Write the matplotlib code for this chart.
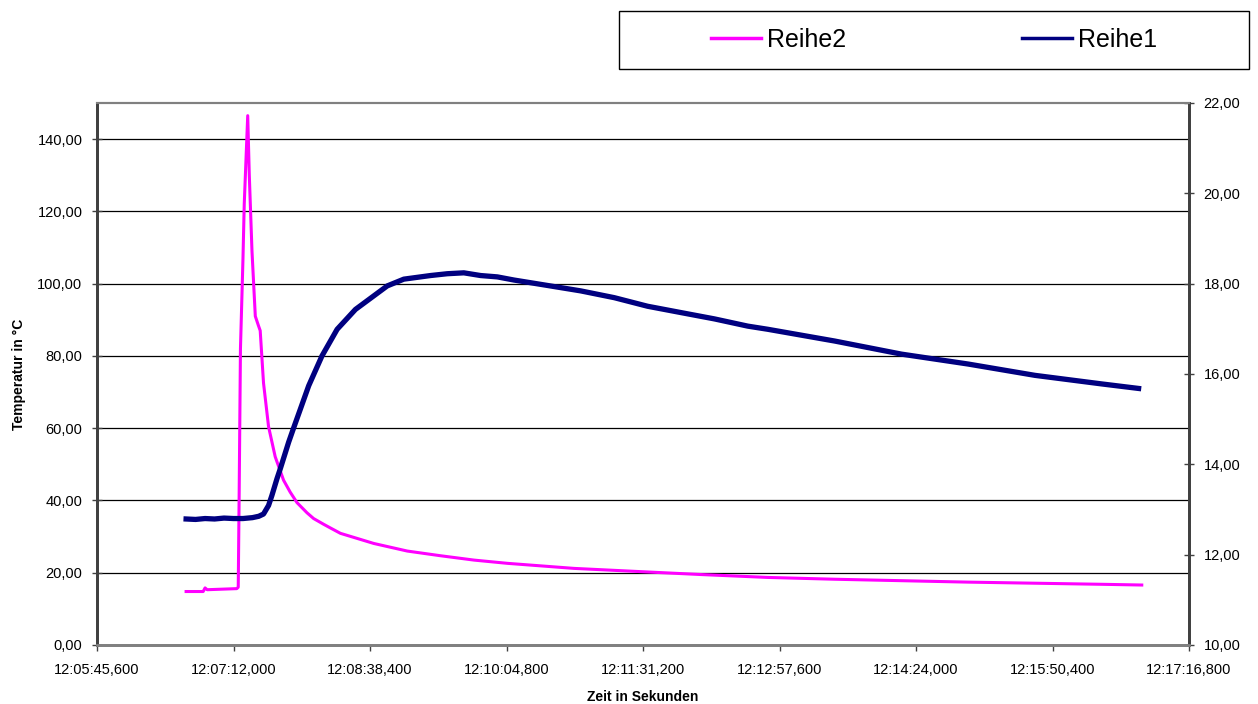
import numpy as np
import matplotlib
matplotlib.use("Agg")
import matplotlib.pyplot as plt
from matplotlib.ticker import FuncFormatter

# ==========================================================
# Data
# ==========================================================

# measurement start 12:06:42 (seconds of day)
T_START = 12 * 3600 + 6 * 60 + 42.0

# x axis range 12:05:45,600 ... 12:17:16,800, step 0,001 day
X_MIN = 12 * 3600 + 5 * 60 + 45.6
X_STEP = 86.4
X_COUNT = 8

# Reihe2 (left axis), seconds after start
reihe2_t = [0.0, 10.8, 12.0, 13.3, 32.1, 33.0, 33.6, 34.4, 36.0, 36.8,
            39.0, 40.0, 41.7, 43.8, 45.7, 46.9, 49.0, 52.2, 56.4, 61.7,
            65.9, 70.2, 76.5, 80.7, 87.1, 91.3, 97.7, 118.8, 140.0, 161.1,
            182.2, 203.4, 245.6, 287.9, 325.9, 368.2, 410.5, 452.8, 495.1,
            537.3, 579.6, 604.9]
reihe2_v = [14.8, 14.8, 15.8, 15.3, 15.6, 16.0, 42.5, 82.0, 107.0, 122.0,
            146.5, 130.0, 109.0, 91.0, 88.5, 87.0, 72.5, 60.4, 52.1, 45.6,
            42.3, 39.4, 36.6, 35.0, 33.4, 32.4, 30.9, 28.1, 26.0, 24.7,
            23.5, 22.6, 21.2, 20.3, 19.5, 18.7, 18.2, 17.8, 17.4,
            17.1, 16.8, 16.6]

# Reihe1 (right axis), seconds after start
reihe1_t = [0.0, 6.0, 12.0, 18.0, 24.0, 30.0, 36.0, 42.0, 46.0, 49.0,
            52.2, 54.3, 57.5, 59.6, 64.9, 68.0, 72.3, 77.6, 86.0, 95.6,
            107.2, 118.8, 127.3, 137.8, 154.7, 165.3, 175.8, 186.4, 197.0,
            207.6, 228.8, 249.8, 271.0, 292.1, 313.2, 334.4, 355.5, 368.2,
            410.5, 452.8, 495.1, 537.3, 579.6, 602.9]
reihe1_v = [12.79, 12.78, 12.80, 12.79, 12.81, 12.80, 12.80, 12.82, 12.85, 12.90,
            13.09, 13.31, 13.68, 13.90, 14.49, 14.80, 15.22, 15.74, 16.40, 16.99,
            17.43, 17.73, 17.95, 18.10, 18.18, 18.22, 18.24, 18.18, 18.15,
            18.08, 17.96, 17.84, 17.69, 17.50, 17.36, 17.22, 17.06, 16.99,
            16.73, 16.44, 16.22, 15.97, 15.78, 15.68]

left_ticks = [0, 20, 40, 60, 80, 100, 120, 140]
right_ticks = [10, 12, 14, 16, 18, 20, 22]


# ==========================================================
# Formatters
# ==========================================================

def fmt_time(s, pos):
    ms = int(round(s * 1000))
    h = ms // 3600000
    m = (ms // 60000) % 60
    sec = (ms // 1000) % 60
    return f"{h:02d}:{m:02d}:{sec:02d},{ms % 1000:03d}"


def fmt_comma(v, pos):
    return f"{v:.2f}".replace(".", ",")


# ==========================================================
# Figure
# ==========================================================

plt.rcParams["font.family"] = ["Liberation Sans", "DejaVu Sans"]

fig = plt.figure(figsize=(12.58, 7.04), dpi=100)
ax = fig.add_axes([97 / 1258, 1 - 645 / 704, 1092 / 1258, 542 / 704])
ax2 = ax.twinx()

x1 = T_START + np.asarray(reihe1_t)
x2 = T_START + np.asarray(reihe2_t)

l2, = ax.plot(x2, reihe2_v, color="#FF00FF", lw=2.2, solid_joinstyle="round")
l1, = ax2.plot(x1, reihe1_v, color="#000080", lw=3.8, solid_joinstyle="round")

# axes ranges
ax.set_xlim(X_MIN, X_MIN + X_STEP * X_COUNT)
ax.set_ylim(0, 150)
ax2.set_ylim(10, 22)

ax.set_xticks([X_MIN + i * X_STEP for i in range(X_COUNT + 1)])
ax.set_yticks(left_ticks)
ax2.set_yticks(right_ticks)

ax.xaxis.set_major_formatter(FuncFormatter(fmt_time))
ax.yaxis.set_major_formatter(FuncFormatter(fmt_comma))
ax2.yaxis.set_major_formatter(FuncFormatter(fmt_comma))

# grid (left axis)
for v in left_ticks[1:]:
    ax.axhline(v, color="black", lw=0.9, zorder=0.5)

# spines
for a in (ax, ax2):
    a.spines["left"].set_color("#404040")
    a.spines["left"].set_linewidth(2.0)
    a.spines["right"].set_color("#404040")
    a.spines["right"].set_linewidth(2.0)
    a.spines["bottom"].set_color("#808080")
    a.spines["bottom"].set_linewidth(2.0)
    a.spines["top"].set_color("#808080")
    a.spines["top"].set_linewidth(1.5)

ax.tick_params(axis="y", direction="inout", length=7, width=1.0,
               color="#404040", pad=7, labelsize=10.5)
ax2.tick_params(axis="y", direction="inout", length=7, width=1.0,
                color="#404040", pad=7, labelsize=10.5)
ax.tick_params(axis="x", direction="out", length=4, width=1.0,
               color="#404040", pad=9, labelsize=10.5)

# axis labels
ax.set_xlabel("Zeit in Sekunden", fontsize=10, fontweight="bold")
ax.xaxis.set_label_coords(0.5, -0.083)
ax.set_ylabel("Temperatur in °C", fontsize=10, fontweight="bold")
ax.yaxis.label.set_va("center")
ax.yaxis.set_label_coords(-0.071, 0.5)

# ==========================================================
# Legend
# ==========================================================

box = plt.Rectangle((619 / 1258, 1 - 69 / 704), 630 / 1258, 58 / 704,
                    transform=fig.transFigure, fill=False,
                    edgecolor="black", lw=1.0)
fig.patches.append(box)

fig.legend([l2, l1], ["Reihe2", "Reihe1"], ncol=2, frameon=False,
           loc="center", bbox_to_anchor=(934 / 1258, 1 - 40 / 704),
           fontsize=18, handlelength=2.0, handletextpad=0.25,
           columnspacing=7.0)
for h in fig.legends[0].get_lines():
    h.set_linewidth(2.5)

fig.savefig("out.png", dpi=100)
